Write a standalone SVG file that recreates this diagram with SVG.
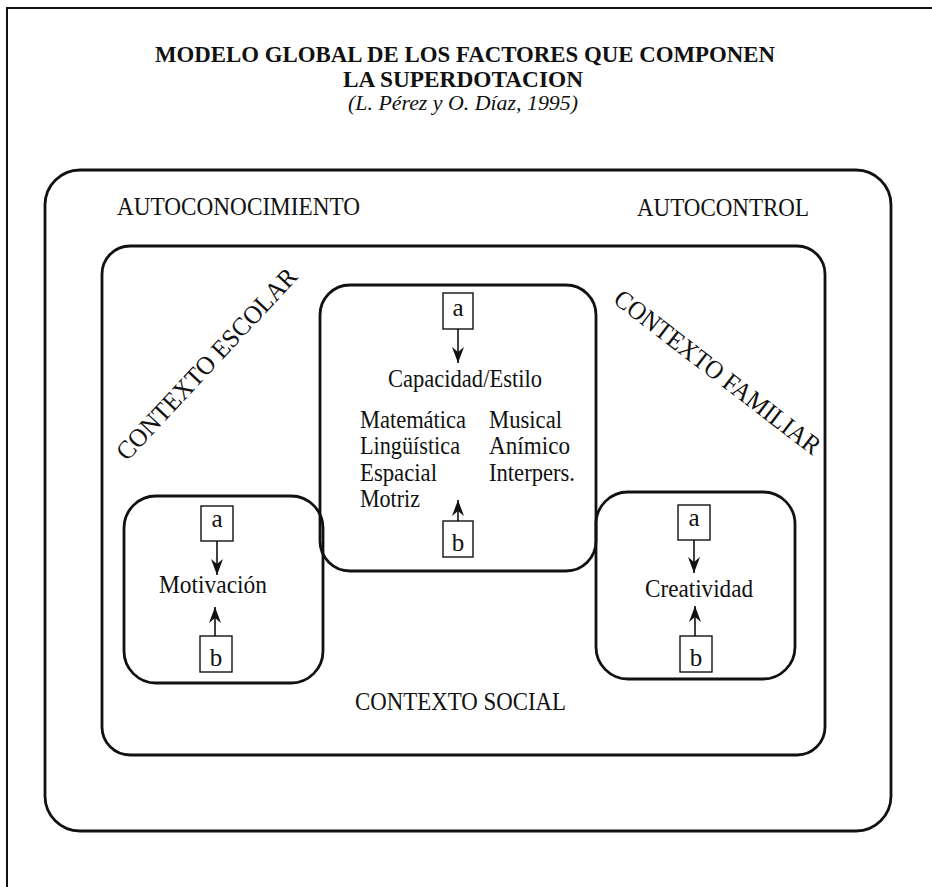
<svg xmlns="http://www.w3.org/2000/svg" width="932" height="887" viewBox="0 0 932 887">
<style>
  .t { font-family: "Liberation Serif", "Times New Roman", serif; fill: #111; }
  .title { font-weight: bold; font-size: 23px; text-anchor: middle; }
  .cite { font-style: italic; font-size: 22px; text-anchor: middle; }
  .lbl { font-size: 26px; }
  .body { font-size: 24.5px; }
  .ab { font-size: 25px; text-anchor: middle; }
  .big { fill: none; stroke: #111; stroke-width: 2.8; }
  .small { fill: none; stroke: #111; stroke-width: 1.4; }
  .frame { fill: none; stroke: #111; stroke-width: 2; }
  .conn { stroke: #111; stroke-width: 1.6; fill: none; marker-end: url(#arr); }
</style>
<defs>
  <marker id="arr" viewBox="0 0 16 12" refX="16" refY="6" markerWidth="16" markerHeight="12" markerUnits="userSpaceOnUse" orient="auto">
    <path d="M0,0 L16,6 L0,12 L5,6 z" fill="#111"/>
  </marker>
</defs>
<rect width="932" height="887" fill="#fff"/>

<g id="page-frame">
  <path class="frame" d="M7,887 L7,8 L932,8"/>
</g>

<g id="title">
  <text class="t title" x="465" y="62" textLength="620" lengthAdjust="spacingAndGlyphs">MODELO GLOBAL DE LOS FACTORES QUE COMPONEN</text>
  <text class="t title" x="463" y="87" textLength="240" lengthAdjust="spacingAndGlyphs">LA SUPERDOTACION</text>
  <text class="t cite" x="463" y="110" textLength="230" lengthAdjust="spacingAndGlyphs">(L. Pérez y O. Díaz, 1995)</text>
</g>

<g id="autoconocimiento-autocontrol">
  <rect class="big" x="45" y="170" width="846" height="661" rx="35" ry="35"/>
  <text class="t lbl" x="117" y="215" textLength="243" lengthAdjust="spacingAndGlyphs">AUTOCONOCIMIENTO</text>
  <text class="t lbl" x="637" y="216" textLength="172" lengthAdjust="spacingAndGlyphs">AUTOCONTROL</text>
</g>

<g id="contextos">
  <rect class="big" x="102" y="246" width="723" height="509" rx="28" ry="28"/>
  <text class="t lbl" transform="translate(127,462) rotate(-47)" x="0" y="0" textLength="252" lengthAdjust="spacingAndGlyphs">CONTEXTO ESCOLAR</text>
  <text class="t lbl" transform="translate(612,302) rotate(37.5)" x="0" y="0" textLength="253" lengthAdjust="spacingAndGlyphs">CONTEXTO FAMILIAR</text>
  <text class="t lbl" x="355" y="710" textLength="211" lengthAdjust="spacingAndGlyphs">CONTEXTO SOCIAL</text>
</g>

<g id="capacidad-estilo">
  <rect class="big" x="320" y="285" width="276" height="286" rx="30" ry="30"/>
  <text class="t body" x="388" y="387" textLength="154" lengthAdjust="spacingAndGlyphs">Capacidad/Estilo</text>
  <text class="t body" x="360" y="428" textLength="106" lengthAdjust="spacingAndGlyphs">Matemática</text>
  <text class="t body" x="360" y="454" textLength="100" lengthAdjust="spacingAndGlyphs">Lingüística</text>
  <text class="t body" x="360" y="481" textLength="77" lengthAdjust="spacingAndGlyphs">Espacial</text>
  <text class="t body" x="360" y="507" textLength="60" lengthAdjust="spacingAndGlyphs">Motriz</text>
  <text class="t body" x="489" y="428" textLength="73" lengthAdjust="spacingAndGlyphs">Musical</text>
  <text class="t body" x="489" y="454" textLength="81" lengthAdjust="spacingAndGlyphs">Anímico</text>
  <text class="t body" x="489" y="481" textLength="86" lengthAdjust="spacingAndGlyphs">Interpers.</text>
</g>
<g id="capacidad-a">
  <rect class="small" x="443" y="293" width="30" height="36"/>
  <text class="t ab" x="458" y="316">a</text>
</g>
<g id="capacidad-b">
  <rect class="small" x="443" y="521" width="30" height="36"/>
  <text class="t ab" x="458" y="551">b</text>
</g>

<g id="motivacion">
  <rect class="big" x="124" y="496" width="199" height="187" rx="32" ry="32"/>
  <text class="t body" x="159" y="593" textLength="108" lengthAdjust="spacingAndGlyphs">Motivación</text>
</g>
<g id="motivacion-a">
  <rect class="small" x="201" y="506" width="32" height="35"/>
  <text class="t ab" x="217" y="527">a</text>
</g>
<g id="motivacion-b">
  <rect class="small" x="200" y="636" width="32" height="36"/>
  <text class="t ab" x="216" y="666">b</text>
</g>

<g id="creatividad">
  <rect class="big" x="596" y="492" width="199" height="187" rx="32" ry="32"/>
  <text class="t body" x="645" y="597" textLength="108" lengthAdjust="spacingAndGlyphs">Creatividad</text>
</g>
<g id="creatividad-a">
  <rect class="small" x="678" y="505" width="32" height="35"/>
  <text class="t ab" x="694" y="526">a</text>
</g>
<g id="creatividad-b">
  <rect class="small" x="680" y="636" width="32" height="36"/>
  <text class="t ab" x="696" y="666">b</text>
</g>

<g id="connectors">
  <line class="conn" x1="458" y1="329" x2="458" y2="363"/>
  <line class="conn" x1="458" y1="521" x2="458" y2="500"/>
  <line class="conn" x1="217" y1="541" x2="217" y2="575"/>
  <line class="conn" x1="215" y1="636" x2="215" y2="607"/>
  <line class="conn" x1="694" y1="540" x2="694" y2="573"/>
  <line class="conn" x1="695" y1="636" x2="695" y2="606"/>
</g>
</svg>
